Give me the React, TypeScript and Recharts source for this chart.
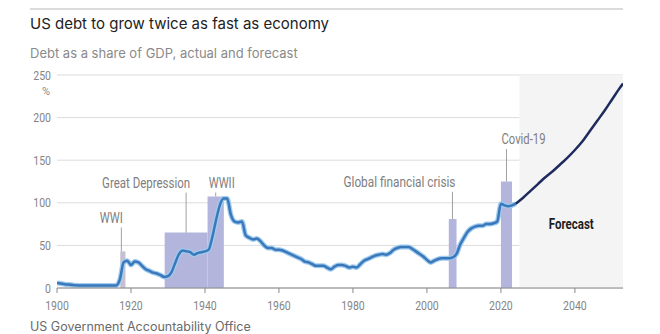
import { CartesianGrid, Line, LineChart, ReferenceArea, ReferenceLine, XAxis, YAxis } from 'recharts';

const NARROW = 'Roboto, "Liberation Sans", sans-serif';
const SANS = 'Inter, "Noto Sans", Roboto, sans-serif';

// Debt held by public as % of GDP (actual)
const actualYears = [1900, 1903, 1906, 1910, 1914, 1916, ...Array.from({ length: 108 }, (_, i) => 1917 + i)];
const actualDebt = [
  6, 4, 3, 3, 3, 3,
  10, 30, 32, 27, 31, 30, 26, 22, 20, 18, 17, 15, 13, 14, 19, 30, 40, 44, 43, 42, 39, 41, 42, 43,
  45, 60, 80, 97, 105, 105, 86, 78, 77, 78, 62, 59, 57, 58, 55, 50, 47, 47, 45, 45,
  44, 42, 40, 38, 36, 34, 31, 30, 28, 26, 26, 26, 24, 22, 25, 27, 27, 26, 24, 25,
  24, 28, 32, 34, 36, 38, 39, 40, 39, 41, 45, 47, 48, 48, 48, 46, 43, 40, 37, 33,
  30, 32, 34, 35, 35, 35, 36, 40, 51, 59, 66, 70, 72, 73, 73, 75, 75, 76, 78, 99,
  97, 96, 97, 99,
];

// Forecast
const forecastYears = [2024, 2026, 2028, 2030, 2032, 2034, 2036, 2038, 2040, 2042, 2044, 2046, 2048, 2050, 2052, 2053];
const forecastDebt = [99, 106, 114, 122, 130, 137, 145, 153, 162, 172, 184, 196, 208, 221, 234, 240];

// Shaded events
const eventNames = ['WWI', 'Great Depression', 'WWII', 'Global financial crisis', 'Covid-19'];
const eventStart = [1917.1, 1929.1, 1940.7, 2005.9, 2020];
const eventEnd = [1918.5, 1940.7, 1945.1, 2008, 2023];
const eventHeight = [43, 65, 107.5, 81, 125];
const leaderYear = [1917.4, 1934.9, 1942.9, 2006.9, 2021.5];
const leaderTop = [71, 112, 112, 113, 163];

const xTicks = [1900, 1920, 1940, 1960, 1980, 2000, 2020, 2040];
const yTicks = [0, 50, 100, 150, 200, 250];
const forecastStart = 2025;
const xMax = 2053;

const actualData = actualYears.map((year, i) => ({ year, debt: actualDebt[i] }));
const forecastData = forecastYears.map((year, i) => ({ year, debt: forecastDebt[i] }));

// label offset from leader line and condensed text width (px), bar fill
const labelDx: Record<string, number> = {
  WWI: -10,
  'Great Depression': -40,
  WWII: 6,
  'Global financial crisis': -53,
  'Covid-19': 17,
};
const labelWidth: Record<string, number> = {
  WWI: 23,
  'Great Depression': 88,
  WWII: 26,
  'Global financial crisis': 112,
  'Covid-19': 44,
  Forecast: 45,
};
const barFill: Record<string, string> = { WWI: '#c6c0d2' };

function leaderLabel(text: string) {
  return (props: any) => {
    const vb = props.viewBox || {};
    return (
      <text
        x={vb.x + labelDx[text]}
        y={vb.y - 5}
        textAnchor="middle"
        fill="#7e7e7e"
        fontSize={14}
        fontFamily={NARROW}
        textLength={labelWidth[text]}
        lengthAdjust="spacingAndGlyphs"
      >
        {text}
      </text>
    );
  };
}

function forecastLabel(props: any) {
  const vb = props.viewBox || {};
  return (
    <text
      x={vb.x + vb.width / 2}
      y={vb.y + vb.height / 2 + 47}
      textAnchor="middle"
      fill="#1e1e1e"
      fontSize={15}
      fontWeight={700}
      fontFamily={NARROW}
      textLength={labelWidth.Forecast}
      lengthAdjust="spacingAndGlyphs"
    >
      Forecast
    </text>
  );
}

function NarrowTick(props: any) {
  const { x, y, payload, textAnchor, verticalAnchor } = props;
  const label = String(payload.value);
  const dy = verticalAnchor === 'start' ? '0.71em' : verticalAnchor === 'end' ? '0' : '0.355em';
  return (
    <text
      x={x}
      y={y}
      dy={dy}
      textAnchor={textAnchor}
      fill="#858585"
      fontSize={13}
      fontFamily={NARROW}
      textLength={label.length * 5.9}
      lengthAdjust="spacingAndGlyphs"
    >
      {label}
    </text>
  );
}

export default function App() {
  return (
    <div style={{ position: 'absolute', left: 0, top: 0, width: 660, height: 334, background: '#fff' }}>
      <LineChart width={660} height={334} margin={{ top: 75, right: 37, bottom: 21, left: 27 }}>
        <ReferenceArea
          x1={forecastStart}
          x2={xMax}
          y1={0}
          y2={250}
          fill="#f4f4f4"
          fillOpacity={1}
          stroke="none"
          label={forecastLabel}
        />
        <CartesianGrid vertical={false} stroke="#dcdcdc" />
        <XAxis
          type="number"
          dataKey="year"
          domain={[1900, xMax]}
          ticks={xTicks}
          allowDataOverflow
          height={25}
          tickSize={5}
          tickMargin={8}
          stroke="#8a8a8a"
          tick={<NarrowTick />}
        />
        <YAxis
          type="number"
          domain={[0, 250]}
          ticks={yTicks}
          width={30}
          axisLine={false}
          tickLine={false}
          tickSize={0}
          tickMargin={6}
          tick={<NarrowTick />}
        />
        {eventNames.map((name, i) => (
          <ReferenceArea
            key={name}
            x1={eventStart[i]}
            x2={eventEnd[i]}
            y1={0}
            y2={eventHeight[i]}
            fill={barFill[name] || '#b4b5dc'}
            fillOpacity={1}
            stroke="none"
          />
        ))}
        {eventNames.map((name, i) => (
          <ReferenceLine
            key={name + '-leader'}
            segment={[
              { x: leaderYear[i], y: eventHeight[i] },
              { x: leaderYear[i], y: leaderTop[i] },
            ]}
            stroke="#a0a0a0"
            strokeWidth={1}
            label={leaderLabel(name)}
          />
        ))}
        <Line
          data={actualData}
          dataKey="debt"
          type="monotone"
          stroke="#9fcbee"
          strokeWidth={5}
          dot={false}
          isAnimationActive={false}
        />
        <Line
          data={actualData}
          dataKey="debt"
          type="monotone"
          stroke="#3a78bb"
          strokeWidth={2.5}
          dot={false}
          isAnimationActive={false}
        />
        <Line
          data={forecastData}
          dataKey="debt"
          type="monotone"
          stroke="#1f2b5e"
          strokeWidth={2.5}
          dot={false}
          isAnimationActive={false}
        />
      </LineChart>
      <svg
        width={660}
        height={334}
        style={{ position: 'absolute', left: 0, top: 0, pointerEvents: 'none' }}
      >
        <line x1={30} x2={623} y1={9} y2={9} stroke="#cfcfcf" strokeWidth={1.5} />
        <text x={30} y={29} fontSize={15} fontFamily={SANS} fill="#222">
          US debt to grow twice as fast as economy
        </text>
        <text x={30} y={58} fontSize={13} fontFamily={SANS} fill="#8a8a8a">
          Debt as a share of GDP, actual and forecast
        </text>
        <text x={46} y={95} fontSize={11} fontFamily={NARROW} fill="#8a8a8a" textAnchor="middle">
          %
        </text>
        <text x={30} y={331} fontSize={12.5} fontFamily={SANS} fill="#6a6a6a">
          US Government Accountability Office
        </text>
      </svg>
    </div>
  );
}
